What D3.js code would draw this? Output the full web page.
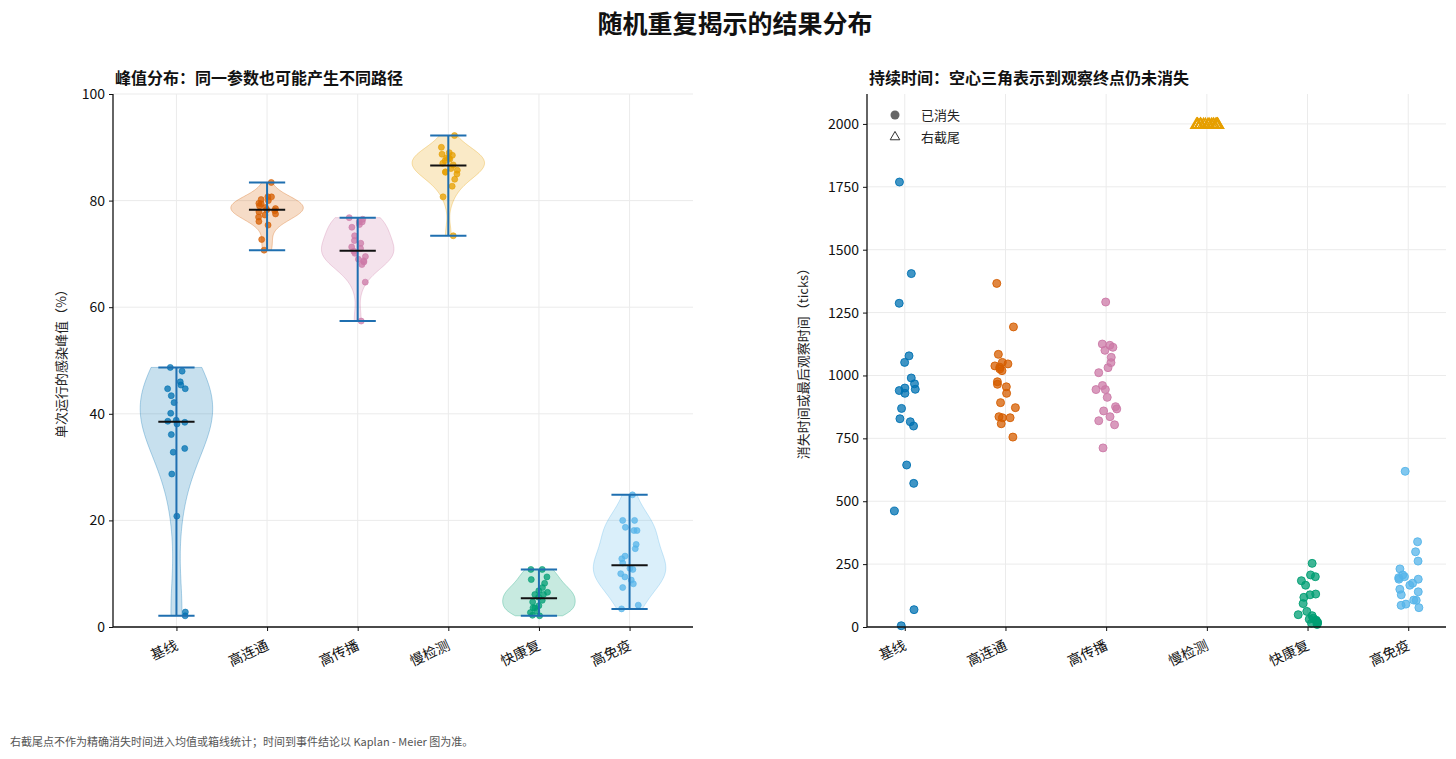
<!DOCTYPE html>
<html><head><meta charset="utf-8">
<script src="https://cdn.jsdelivr.net/npm/d3@7"></script>
<style>
body{margin:0;background:#fff;}
text{font-family:"Noto Sans CJK SC","Noto Sans",sans-serif;}
</style>
</head><body>
<svg id="c" width="1456" height="759"></svg>
<script>
// ---------------- DATA ----------------
const categories = ["基线","高连通","高传播","慢检测","快康复","高免疫"];
const seriesColors = ["#0072B2","#D55E00","#CC79A7","#E69F00","#009E73","#56B4E9"];

// Peak infection (%) per run
const peakBaseline = [48.7,48.0,46.0,45.4,44.7,44.7,43.4,42.1,40.1,38.8,38.6,38.4,38.1,36.1,33.5,32.8,28.7,20.8,2.8,2.1];
const peakHighConn = [83.4,80.7,80.0,80.7,79.5,79.4,78.7,78.1,77.9,77.3,76.9,76.1,75.4,72.7,70.7,78.5,79.0,77.5,80.2,78.3];
const peakHighTrans = [76.8,76.0,75.5,76.0,73.4,72.0,71.3,70.1,69.5,68.7,68.0,64.7,57.4,76.5,72.5,70.5,69.0,68.5,75.0,71.0];
const peakSlowDetect = [92.2,90.0,88.7,88.0,88.0,87.5,86.7,85.4,85.3,85.7,84.0,82.7,80.7,73.4,89.0,87.0,86.0,88.5,85.0,87.8];
const peakFastRecover = [10.8,10.8,9.4,8.9,8.2,7.4,6.8,6.1,6.1,5.6,4.7,3.6,3.6,2.7,2.2,2.1,5.0,4.0,6.5,3.0];
const peakHighImmune = [24.8,20.0,20.0,18.7,18.1,18.1,14.7,13.3,12.8,10.8,10.0,9.4,8.8,8.1,7.4,4.1,3.4,11.0,12.0,15.5];
const peakSeries = [peakBaseline,peakHighConn,peakHighTrans,peakSlowDetect,peakFastRecover,peakHighImmune];
const peakMedians = [38.5,78.3,70.6,86.6,5.4,11.6];
const peakTicks = [0,20,40,60,80,100];

// Extinction time or last observation (ticks)
const durBaseline = [1769,1405,1287,1078,1052,990,967,945,940,929,869,828,816,799,644,571,461,69,5,950];
const durHighConn = [1366,1193,1084,1052,1046,1038,1019,1033,1026,975,965,955,929,892,872,832,832,836,808,755];
const durHighTrans = [1292,1125,1120,1112,1100,1072,1051,1031,1011,944,944,913,876,867,859,836,820,804,712,960];
const durSlowDetect = [2000,2000,2000,2000,2000,2000,2000,2000,2000,2000,2000,2000,2000,2000,2000,2000,2000,2000,2000,2000];
const durFastRecover = [253,207,200,184,166,128,131,118,93,49,45,62,31,27,20,16,15,10,35,25];
const durHighImmune = [619,339,299,262,231,196,200,190,207,190,166,174,140,128,107,106,91,86,77,150];
const durSeries = [durBaseline,durHighConn,durHighTrans,durSlowDetect,durFastRecover,durHighImmune];
const durCensored = [false,false,false,true,false,false];
const durTicks = [0,250,500,750,1000,1250,1500,1750,2000];

// ---------------- DRAW ----------------
const svg = d3.select("#c");
const FONT = '"Noto Sans CJK SC","Noto Sans",sans-serif';
const gridColor = "#ebebeb";
const barColor = "#1f6fb0";

svg.append("text").attr("x",735).attr("y",33).attr("text-anchor","middle")
  .attr("font-size",25).attr("font-weight","bold").attr("fill","#111").text("随机重复揭示的结果分布");

svg.append("text").attr("x",10).attr("y",746).attr("font-size",11).attr("fill","#555")
  .text("右截尾点不作为精确消失时间进入均值或箱线统计；时间到事件结论以 Kaplan - Meier 图为准。");

function panel(x0,x1,y0,y1,xDomain,yDomain,yTicks,title,ylabel,ylabelX){
  const x = d3.scaleLinear().domain(xDomain).range([x0,x1]);
  const y = d3.scaleLinear().domain(yDomain).range([y1,y0]);
  const g = svg.append("g");
  g.append("g").selectAll("line").data(yTicks).join("line")
    .attr("x1",x0).attr("x2",x1).attr("y1",d=>y(d)).attr("y2",d=>y(d))
    .attr("stroke",gridColor).attr("stroke-width",1);
  g.append("g").selectAll("line").data(categories.map((c,i)=>i)).join("line")
    .attr("x1",d=>x(d)).attr("x2",d=>x(d)).attr("y1",y0).attr("y2",y1)
    .attr("stroke",gridColor).attr("stroke-width",1);
  svg.append("text").attr("x",x0+2).attr("y",84).attr("font-size",16).attr("font-weight","bold")
    .attr("fill","#111").text(title);
  svg.append("text").attr("transform",`translate(${ylabelX},${(y0+y1)/2}) rotate(-90)`)
    .attr("text-anchor","middle").attr("font-size",13).attr("fill","#222").text(ylabel);
  return {x,y,g};
}

function axes(p,x0,x1,y0,y1,yTicks){
  const ya = svg.append("g").attr("transform",`translate(${x0},0)`)
    .call(d3.axisLeft(p.y).tickValues(yTicks).tickFormat(d3.format("d")).tickSize(4).tickPadding(4));
  ya.select(".domain").attr("stroke","#111").attr("stroke-width",1.3).attr("d",`M0,${y0}V${y1}`);
  ya.selectAll("text").attr("font-size",14).attr("font-family",FONT).attr("fill","#111");
  ya.selectAll(".tick line").attr("stroke","#111");
  const xa = svg.append("g").attr("transform",`translate(0,${y1})`)
    .call(d3.axisBottom(p.x).tickValues(categories.map((c,i)=>i)).tickFormat(i=>categories[i]).tickSize(4));
  xa.select(".domain").attr("stroke","#111").attr("stroke-width",1.3).attr("d",`M${x0},0H${x1}`);
  xa.selectAll(".tick line").attr("stroke","#111");
  xa.selectAll("text").attr("font-size",14).attr("font-family",FONT).attr("fill","#111")
    .attr("text-anchor","end").attr("y",0).attr("dy","0.85em")
    .attr("transform","translate(-3,11) rotate(-25)");
}

// ---- Left: violins ----
const L = {x0:113,x1:693,y0:94,y1:627};
const pl = panel(L.x0,L.x1,L.y0,L.y1,[-0.7,5.7],[0,100],peakTicks,
  "峰值分布：同一参数也可能产生不同路径","单次运行的感染峰值（%）",66);
const unitL = pl.x(1)-pl.x(0);

function kde(vals){
  const n = vals.length;
  const sd = d3.deviation(vals);
  const bw = sd*Math.pow(n,-1/5);
  const lo = d3.min(vals), hi = d3.max(vals);
  const pts = d3.range(0,101).map(i=>lo+(hi-lo)*i/100);
  return pts.map(v=>({v, d:d3.sum(vals,u=>Math.exp(-0.5*((v-u)/bw)**2))}));
}

peakSeries.forEach((vals,i)=>{
  const cx = pl.x(i);
  const dens = kde(vals);
  const dmax = d3.max(dens,d=>d.d);
  const half = 0.4*unitL;
  const area = d3.area().y(d=>pl.y(d.v)).x0(d=>cx-d.d/dmax*half).x1(d=>cx+d.d/dmax*half).curve(d3.curveBasis);
  pl.g.append("path").attr("d",area(dens)).attr("fill",seriesColors[i]).attr("fill-opacity",0.22)
    .attr("stroke",seriesColors[i]).attr("stroke-opacity",0.3).attr("stroke-width",1);
});
const rngL = d3.randomUniform.source(d3.randomLcg(0.137))(-0.1,0.1);
peakSeries.forEach((vals,i)=>{
  pl.g.append("g").selectAll("circle").data(vals).join("circle")
    .attr("cx",()=>pl.x(i+rngL())).attr("cy",d=>pl.y(d)).attr("r",3)
    .attr("fill",seriesColors[i]).attr("fill-opacity",0.75)
    .attr("stroke",seriesColors[i]).attr("stroke-width",0.6);
});
peakSeries.forEach((vals,i)=>{
  const cx = pl.x(i), cap = 0.2*unitL;
  const lo = d3.min(vals), hi = d3.max(vals);
  pl.g.append("line").attr("x1",cx).attr("x2",cx).attr("y1",pl.y(lo)).attr("y2",pl.y(hi))
    .attr("stroke",barColor).attr("stroke-width",2);
  [lo,hi].forEach(v=>pl.g.append("line").attr("x1",cx-cap).attr("x2",cx+cap)
    .attr("y1",pl.y(v)).attr("y2",pl.y(v)).attr("stroke",barColor).attr("stroke-width",2));
  pl.g.append("line").attr("x1",cx-cap).attr("x2",cx+cap)
    .attr("y1",pl.y(peakMedians[i])).attr("y2",pl.y(peakMedians[i])).attr("stroke","#111").attr("stroke-width",2);
});
axes(pl,L.x0,L.x1,L.y0,L.y1,peakTicks);

// ---- Right: durations ----
const R = {x0:867,x1:1446,y0:94,y1:627};
const pr = panel(R.x0,R.x1,R.y0,R.y1,[-0.375,5.375],[0,2119],durTicks,
  "持续时间：空心三角表示到观察终点仍未消失","消失时间或最后观察时间（ticks）",808);
const rngR = d3.randomUniform.source(d3.randomLcg(0.581))(-0.11,0.11);
const tri = d3.symbol().type(d3.symbolTriangle).size(55);
durSeries.forEach((vals,i)=>{
  const g = pr.g.append("g");
  if(durCensored[i]){
    g.selectAll("path").data(vals).join("path").attr("d",tri)
      .attr("transform",d=>`translate(${pr.x(i+rngR())},${pr.y(d)+1})`)
      .attr("fill","none").attr("stroke",seriesColors[i]).attr("stroke-width",1.6);
  } else {
    g.selectAll("circle").data(vals).join("circle")
      .attr("cx",()=>pr.x(i+rngR())).attr("cy",d=>pr.y(d)).attr("r",4)
      .attr("fill",seriesColors[i]).attr("fill-opacity",0.75)
      .attr("stroke",seriesColors[i]).attr("stroke-width",0.9);
  }
});
axes(pr,R.x0,R.x1,R.y0,R.y1,durTicks);

// legend
const lg = svg.append("g");
lg.append("circle").attr("cx",895).attr("cy",115).attr("r",4.5).attr("fill","#555").attr("fill-opacity",0.9);
lg.append("path").attr("d",d3.symbol().type(d3.symbolTriangle).size(40)).attr("transform","translate(895,137)")
  .attr("fill","none").attr("stroke","#333").attr("stroke-width",1);
lg.append("text").attr("x",921).attr("y",120).attr("font-size",13).attr("fill","#222").text("已消失");
lg.append("text").attr("x",921).attr("y",142).attr("font-size",13).attr("fill","#222").text("右截尾");
</script>
</body></html>
